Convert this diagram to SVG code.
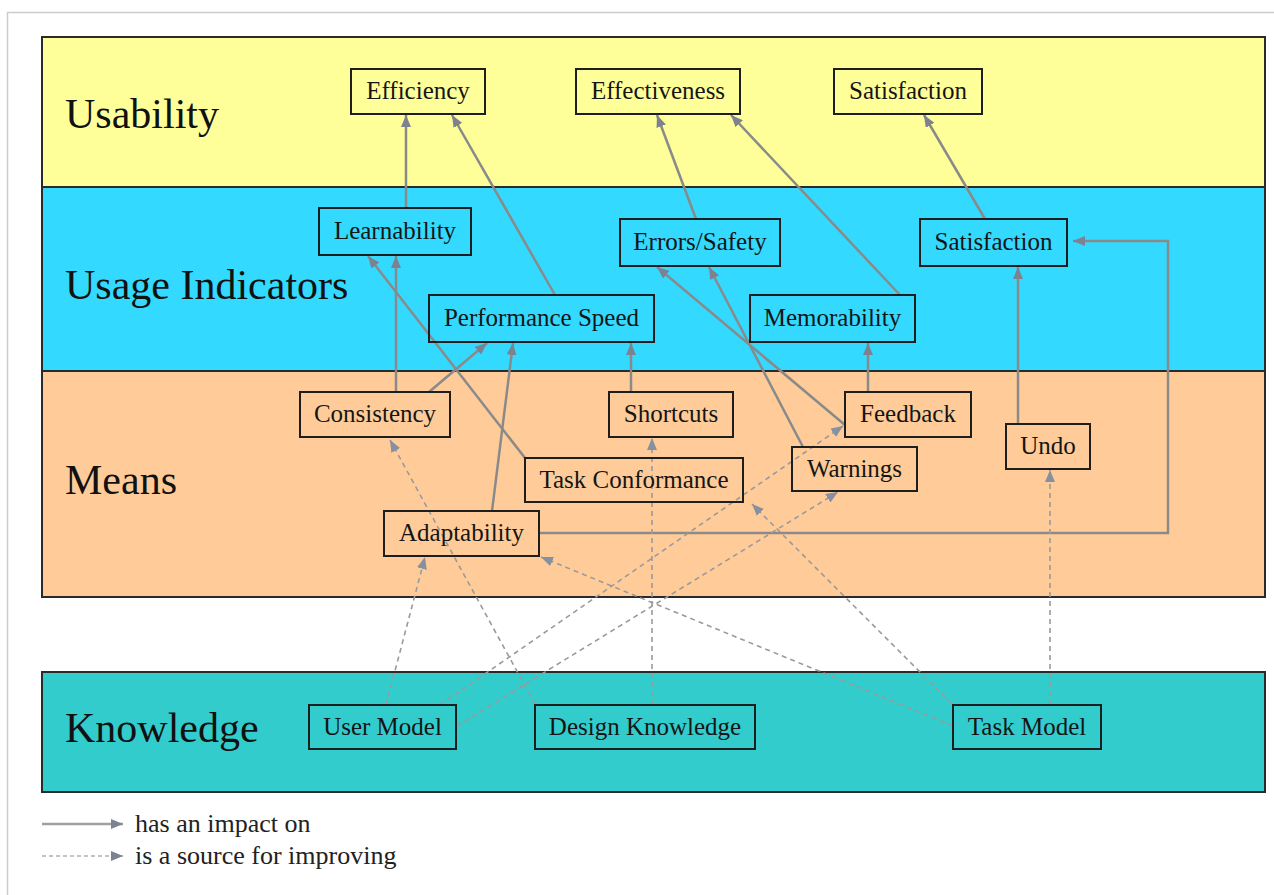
<svg xmlns="http://www.w3.org/2000/svg" width="1274" height="895" viewBox="0 0 1274 895">
  <style>
    .band { stroke: #2a2a2a; stroke-width: 2; }
    .serif { font-family: 'Liberation Serif', 'Times New Roman', Times, Tinos, 'Noto Serif', 'DejaVu Serif', FreeSerif, serif; }
    .band-label { font-size: 42px; fill: #111; }
    .node rect { fill: none; stroke: #1e1e1e; stroke-width: 2; }
    .node text { font-size: 25px; fill: #151515; text-anchor: middle; }
    .impact { fill: none; stroke: #8a8a8a; stroke-width: 2.5; marker-end: url(#head); }
    .source { fill: none; stroke: #9a9a9a; stroke-width: 1.6; stroke-dasharray: 5 4; marker-end: url(#head-dash); }
    .legend { font-size: 26px; fill: #222; }
  </style>
  <defs>
    <marker id="head" viewBox="0 0 12 10" refX="12" refY="5" markerWidth="12" markerHeight="10" markerUnits="userSpaceOnUse" orient="auto">
      <path d="M0,0 L12,5 L0,10 z" fill="#7e8290"/>
    </marker>
    <marker id="head-dash" viewBox="0 0 12 10" refX="12" refY="5" markerWidth="12" markerHeight="10" markerUnits="userSpaceOnUse" orient="auto">
      <path d="M0,0 L12,5 L0,10 z" fill="#8690a0"/>
    </marker>
  </defs>

  <!-- page frame -->
  <rect x="0" y="0" width="1274" height="895" fill="#ffffff"/>
  <rect x="7.5" y="12.5" width="1300" height="900" fill="none" stroke="#cccccc" stroke-width="1.5"/>

  <!-- layers -->
  <g id="layers" class="serif">
    <rect class="band" x="42" y="37" width="1223" height="150" fill="#ffff99"/>
    <rect class="band" x="42" y="187" width="1223" height="184" fill="#33d9ff"/>
    <rect class="band" x="42" y="371" width="1223" height="226" fill="#ffcc99"/>
    <rect class="band" x="42" y="672" width="1223" height="120" fill="#33cccc"/>
    <text class="band-label" x="65" y="128">Usability</text>
    <text class="band-label" x="65" y="299">Usage Indicators</text>
    <text class="band-label" x="65" y="494">Means</text>
    <text class="band-label" x="65" y="742">Knowledge</text>
  </g>

  <!-- connectors -->
  <g id="connectors">
    <!-- has an impact on -->
    <path class="impact" d="M406,208 L406,115"/>
    <path class="impact" d="M555,295 L452,115"/>
    <path class="impact" d="M696,219 L657,115"/>
    <path class="impact" d="M900,295 L731,115"/>
    <path class="impact" d="M985,219 L924,115"/>
    <path class="impact" d="M396,392 L396,256"/>
    <path class="impact" d="M525,458 L368,256"/>
    <path class="impact" d="M429,392 L487,343"/>
    <path class="impact" d="M492,511 L513,343"/>
    <path class="impact" d="M631,392 L631,343"/>
    <path class="impact" d="M845,425 L657,267"/>
    <path class="impact" d="M803,447 L709,267"/>
    <path class="impact" d="M868,392 L868,343"/>
    <path class="impact" d="M1018,424 L1018,267"/>
    <path class="impact" d="M539,533 L1168,533 L1168,241 L1073,241"/>
    <!-- is a source for improving -->
    <path class="source" d="M386,705 L425,557"/>
    <path class="source" d="M535,704 L390,440"/>
    <path class="source" d="M440,705 L843,426"/>
    <path class="source" d="M457,726 L838,492"/>
    <path class="source" d="M652,705 L652,438"/>
    <path class="source" d="M953,726 L541,557"/>
    <path class="source" d="M952,704 L752,504"/>
    <path class="source" d="M1050,705 L1050,470"/>
  </g>

  <!-- usability -->
  <g id="efficiency" class="node serif"><rect x="351" y="69" width="134" height="45"/><text x="418" y="99">Efficiency</text></g>
  <g id="effectiveness" class="node serif"><rect x="576" y="69" width="164" height="45"/><text x="658" y="99">Effectiveness</text></g>
  <g id="satisfaction-goal" class="node serif"><rect x="834" y="69" width="148" height="45"/><text x="908" y="99">Satisfaction</text></g>

  <!-- usage indicators -->
  <g id="learnability" class="node serif"><rect x="319" y="208" width="152" height="47"/><text x="395" y="239">Learnability</text></g>
  <g id="errors-safety" class="node serif"><rect x="620" y="219" width="160" height="47"/><text x="700" y="250">Errors/Safety</text></g>
  <g id="satisfaction" class="node serif"><rect x="920" y="219" width="147" height="47"/><text x="993.5" y="250">Satisfaction</text></g>
  <g id="performance-speed" class="node serif"><rect x="429" y="295" width="225" height="47"/><text x="541.5" y="326">Performance Speed</text></g>
  <g id="memorability" class="node serif"><rect x="750" y="295" width="165" height="47"/><text x="832.5" y="326">Memorability</text></g>

  <!-- means -->
  <g id="consistency" class="node serif"><rect x="300" y="392" width="150" height="45"/><text x="375" y="422">Consistency</text></g>
  <g id="shortcuts" class="node serif"><rect x="609" y="392" width="124" height="45"/><text x="671" y="422">Shortcuts</text></g>
  <g id="feedback" class="node serif"><rect x="845" y="392" width="126" height="45"/><text x="908" y="422">Feedback</text></g>
  <g id="undo" class="node serif"><rect x="1006" y="424" width="84" height="45"/><text x="1048" y="454">Undo</text></g>
  <g id="warnings" class="node serif"><rect x="792" y="447" width="125" height="44"/><text x="854.5" y="477">Warnings</text></g>
  <g id="task-conformance" class="node serif"><rect x="525" y="458" width="218" height="44"/><text x="634" y="488">Task Conformance</text></g>
  <g id="adaptability" class="node serif"><rect x="384" y="511" width="155" height="45"/><text x="461.5" y="541">Adaptability</text></g>

  <!-- knowledge -->
  <g id="user-model" class="node serif"><rect x="309" y="705" width="147" height="44"/><text x="382.5" y="735">User Model</text></g>
  <g id="design-knowledge" class="node serif"><rect x="535" y="705" width="220" height="44"/><text x="645" y="735">Design Knowledge</text></g>
  <g id="task-model" class="node serif"><rect x="953" y="705" width="148" height="44"/><text x="1027" y="735">Task Model</text></g>

  <!-- legend -->
  <g id="legend" class="serif">
    <path d="M42,824 L123,824" fill="none" stroke="#a0a0a0" stroke-width="2.5" marker-end="url(#head)"/>
    <path d="M42,856 L123,856" fill="none" stroke="#b0b0b0" stroke-width="1.6" stroke-dasharray="4 3" marker-end="url(#head)"/>
    <text class="legend" x="135" y="832">has an impact on</text>
    <text class="legend" x="135" y="864">is a source for improving</text>
  </g>
</svg>
